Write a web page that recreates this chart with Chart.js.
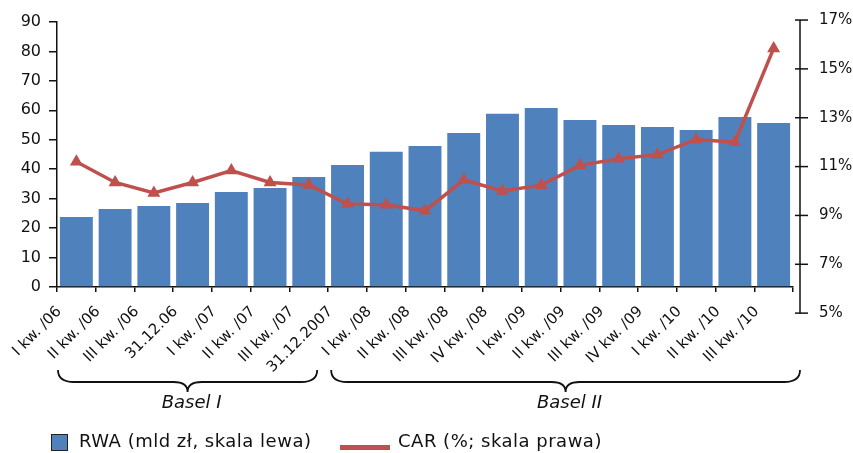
<!DOCTYPE html>
<html>
<head>
<meta charset="utf-8">
<script src="https://cdn.jsdelivr.net/npm/chart.js@4.4.1/dist/chart.umd.min.js"></script>
<style>
  body { margin: 0; width: 853px; height: 453px; overflow: hidden; background: #fff; font-family: "DejaVu Sans", sans-serif; }
  #wrap { position: relative; width: 853px; height: 453px; }
  .lg { position: absolute; font-size: 18px; line-height: 18px; letter-spacing: 0.5px; color: #111; white-space: nowrap; }
  .sq { position: absolute; left: 51px; top: 434px; width: 15px; height: 15px; background: #4F81BD; border: 1.5px solid #222; }
  .ln { position: absolute; left: 340px; top: 445px; width: 50px; height: 5px; background: #C0504D; }
</style>
</head>
<body>
<div id="wrap">
  <canvas id="mycanvas" width="853" height="453"></canvas>
  <div class="sq"></div>
  <div class="lg" style="left:79px; top:432px;">RWA (mld zł, skala lewa)</div>
  <div class="ln"></div>
  <div class="lg" style="left:398px; top:432px;">CAR (%; skala prawa)</div>
</div>
<script>
var quarters = ["I kw. /06", "II kw. /06", "III kw. /06", "31.12.06", "I kw. /07", "II kw. /07", "III kw. /07", "31.12.2007",
    "I kw. /08", "II kw. /08", "III kw. /08", "IV kw. /08", "I kw. /09", "II kw. /09", "III kw. /09", "IV kw. /09",
    "I kw. /10", "II kw. /10", "III kw. /10"];
var rwa = [23.8, 26.5, 27.5, 28.5, 32.3, 33.6, 37.4, 41.4, 45.9, 47.9, 52.3, 58.8, 60.8, 56.7, 55.0, 54.3, 53.3, 57.7, 55.7];
var car = [11.2, 10.35, 9.92, 10.35, 10.84, 10.35, 10.25, 9.47, 9.44, 9.19, 10.45, 10.0, 10.24, 11.05, 11.32, 11.49, 12.11, 12.0, 15.84];
var rightTicks = [5, 7, 9, 11, 13, 15, 17];
// groups by tick-label index
var groups = [
    { label: "Basel I", from: 0, to: 7 },
    { label: "Basel II", from: 8, to: 18 }
];

var FONT = "'DejaVu Sans', sans-serif";

var extras = {
    id: "extras",
    afterDraw: function (chart) {
        var c = chart.ctx;
        var y2 = chart.scales.y2;
        var x = chart.scales.x;
        var area = chart.chartArea;
        var ax = area.right + 7;
        c.save();
        // right axis runs below the x axis down to 5%, so it is drawn from the y2 scale
        c.strokeStyle = "#111";
        c.lineWidth = 1.5;
        c.beginPath();
        c.moveTo(ax, y2.getPixelForValue(17));
        c.lineTo(ax, y2.getPixelForValue(5));
        c.stroke();
        c.fillStyle = "#111";
        c.font = "15px " + FONT;
        c.textBaseline = "middle";
        c.textAlign = "left";
        rightTicks.forEach(function (v) {
            var py = y2.getPixelForValue(v);
            c.beginPath();
            c.moveTo(ax - 5, py);
            c.lineTo(ax + 8, py);
            c.stroke();
            c.fillText(v + "%", ax + 19, py);
        });

        // braces: labels end at the left edge of their category
        var half = (x.getPixelForValue(1) - x.getPixelForValue(0)) / 2;
        function labelEnd(i) { return x.getPixelForValue(i) - half; }
        c.lineWidth = 1.8;
        groups.forEach(function (g, i) {
            var x0 = i === 0 ? labelEnd(g.from) + 1 : labelEnd(g.from - 1) + 3;
            var x1 = i === 0 ? labelEnd(g.to) - 11 : area.right + 7;
            var mid = (x0 + x1) / 2;
            var top = 370, yl = 382, tip = 392;
            c.beginPath();
            c.moveTo(x0, top);
            c.quadraticCurveTo(x0, yl, x0 + 16, yl);
            c.lineTo(mid - 14, yl);
            c.quadraticCurveTo(mid, yl, mid, tip);
            c.quadraticCurveTo(mid, yl, mid + 14, yl);
            c.lineTo(x1 - 16, yl);
            c.quadraticCurveTo(x1, yl, x1, top);
            c.stroke();
            c.font = "italic 18px " + FONT;
            c.textAlign = "center";
            c.fillText(g.label, mid + 4, 403);
        });
        c.restore();
    }
};

var chartdata = {
    labels: quarters,
    datasets: [
        {
            type: "line",
            label: "CAR (%; skala prawa)",
            data: car,
            yAxisID: "y2",
            order: 0,
            borderColor: "#C0504D",
            backgroundColor: "#C0504D",
            borderWidth: 3.5,
            pointStyle: "triangle",
            pointRadius: 4,
            pointBackgroundColor: "#C0504D",
            pointBorderColor: "#C0504D",
            lineTension: 0,
            fill: false
        },
        {
            type: "bar",
            label: "RWA (mld zł, skala lewa)",
            data: rwa,
            yAxisID: "y",
            order: 1,
            backgroundColor: "#4F81BD",
            barPercentage: 0.85,
            categoryPercentage: 1.0
        }
    ]
};

var ctx = document.getElementById("mycanvas");

var comboChart = new Chart(ctx, {
    data: chartdata,
    plugins: [extras],
    options: {
        responsive: false,
        animation: false,
        layout: { padding: { left: 0, right: 60, top: 22, bottom: 0 } },
        plugins: {
            legend: { display: false },
            tooltip: { enabled: false }
        },
        scales: {
            x: {
                offset: true,
                grid: { display: true, drawOnChartArea: false, offset: true, tickLength: 5, color: "#111", lineWidth: 1.5 },
                border: { color: "#111", width: 1.5 },
                ticks: {
                    autoSkip: false,
                    minRotation: 45,
                    maxRotation: 45,
                    labelOffset: -17,
                    padding: 11,
                    color: "#111",
                    font: { family: FONT, size: 15 }
                },
                afterFit: function (s) { s.height = 166; }
            },
            y: {
                position: "left",
                min: 0,
                max: 90,
                ticks: { stepSize: 10, padding: 8, color: "#111", font: { family: FONT, size: 16 } },
                grid: { drawOnChartArea: false, tickLength: 8, color: "#111", lineWidth: 1.5 },
                border: { color: "#111", width: 1.5 },
                afterFit: function (s) { s.width = 57; }
            },
            y2: {
                display: false,
                position: "right",
                min: 6.07,
                max: 16.92
            }
        }
    }
});
</script>
</body>
</html>
